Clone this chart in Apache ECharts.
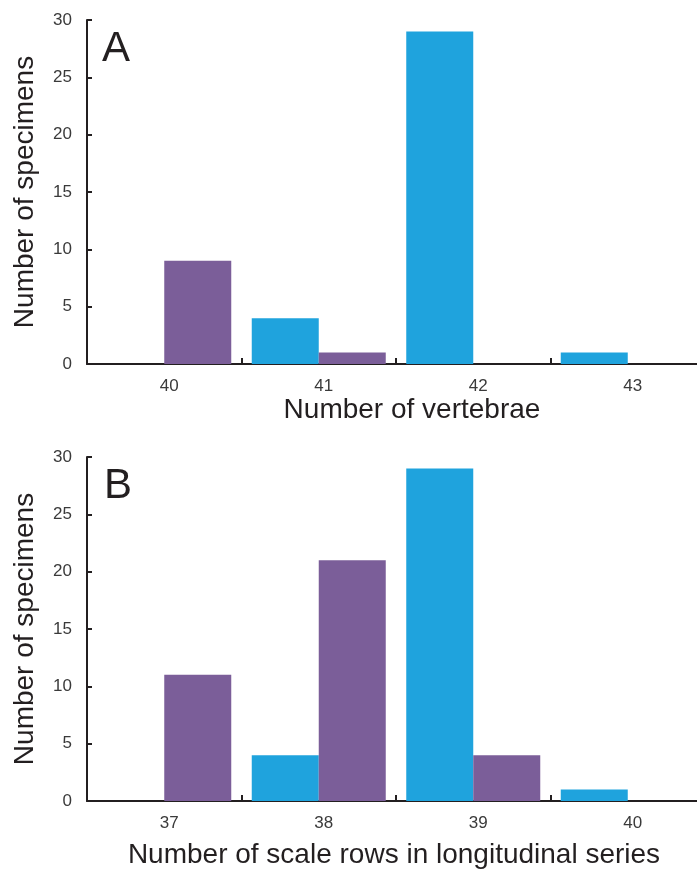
<!DOCTYPE html>
<html>
<head>
<meta charset="utf-8">
<script src="https://cdn.jsdelivr.net/npm/echarts@6/dist/echarts.min.js"></script>
<style>html,body{margin:0;padding:0;background:#fff}#c{width:697px;height:873px}</style>
</head>
<body>
<div id="c"></div>
<script>
// Panel A: vertebrae
const catsA = ['40', '41', '42', '43'];
const blueA = [0, 4, 29, 1];
const purpleA = [9, 1, 0, 0];
// Panel B: scale rows in longitudinal series
const catsB = ['37', '38', '39', '40'];
const blueB = [0, 4, 29, 1];
const purpleB = [11, 21, 4, 0];
const yTicks = [0, 5, 10, 15, 20, 25, 30];

const BLUE = '#1FA3DD';
const PURPLE = '#7B5E99';
const AX = '#231f20';
const TXT = '#3a3a3a';
const FONT = 'Arial, "Liberation Sans", sans-serif';

function xAxis(idx, cats, name, gap, pad) {
  return {
    type: 'category', gridIndex: idx, data: cats,
    name: name, nameLocation: 'middle', nameGap: gap,
    nameTextStyle: {fontSize: 28, color: '#231f20', fontFamily: FONT, padding: pad},
    axisLine: {lineStyle: {color: AX, width: 2}},
    axisTick: {show: true, inside: true, length: 6, lineStyle: {color: AX, width: 2}},
    axisLabel: {fontSize: 17, color: TXT, fontFamily: FONT, margin: 14, padding: [0, 0, 0, 10]}
  };
}
function yAxis(idx) {
  return {
    type: 'value', gridIndex: idx, min: yTicks[0], max: yTicks[yTicks.length - 1], interval: 5,
    name: 'Number of specimens', nameLocation: 'middle', nameGap: 48,
    nameTextStyle: {fontSize: 28, color: '#231f20', fontFamily: FONT},
    axisLine: {show: true, lineStyle: {color: AX, width: 2}},
    axisTick: {show: true, inside: true, length: 5, lineStyle: {color: AX, width: 2}},
    axisLabel: {fontSize: 17, color: TXT, fontFamily: FONT, margin: 15},
    splitLine: {show: false}
  };
}
function bars(idx, data, color) {
  return {
    type: 'bar', xAxisIndex: idx, yAxisIndex: idx, data: data,
    barWidth: 67, barGap: '0%',
    itemStyle: {color: color}
  };
}

const chart = echarts.init(document.getElementById('c'), null, {renderer: 'canvas'});
chart.setOption({
  animation: false,
  backgroundColor: '#fff',
  grid: [
    {left: 87, top: 20, width: 618, height: 344, outerBoundsMode: 'none', containLabel: false},
    {left: 87, top: 457, width: 618, height: 344, outerBoundsMode: 'none', containLabel: false}
  ],
  xAxis: [
    xAxis(0, catsA, 'Number of vertebrae', 32, [0, 0, 0, 32]),
    xAxis(1, catsB, 'Number of scale rows in longitudinal series', 40, [0, 4, 0, 0])
  ],
  yAxis: [yAxis(0), yAxis(1)],
  series: [
    bars(0, blueA, BLUE), bars(0, purpleA, PURPLE),
    bars(1, blueB, BLUE), bars(1, purpleB, PURPLE)
  ],
  graphic: [
    {type: 'text', left: 102, top: 28, style: {text: 'A', fill: '#231f20', font: '42px ' + FONT}},
    {type: 'text', left: 104, top: 465, style: {text: 'B', fill: '#231f20', font: '42px ' + FONT}}
  ]
});
</script>
</body>
</html>
